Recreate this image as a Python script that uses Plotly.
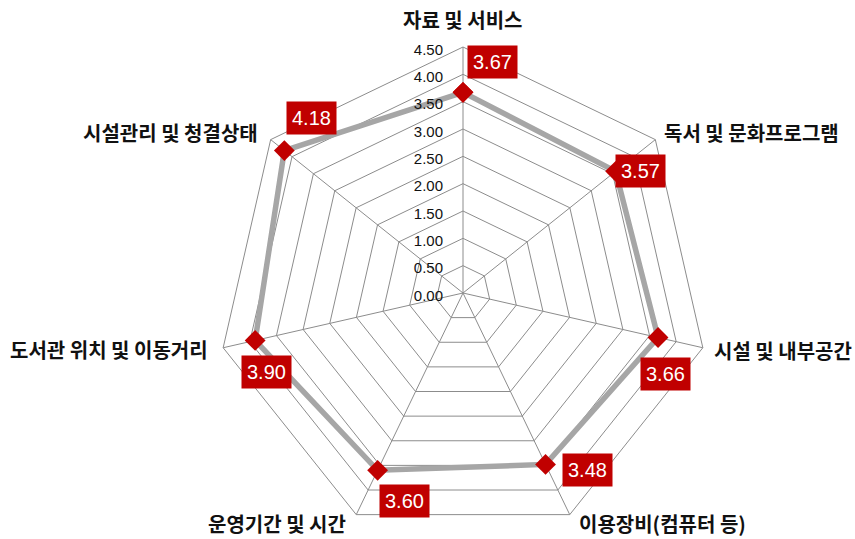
import math
import plotly.graph_objects as go

categories = ["자료 및 서비스", "독서 및 문화프로그램", "시설 및 내부공간", "이용장비(컴퓨터 등)",
              "운영기간 및 시간", "도서관 위치 및 이동거리", "시설관리 및 청결상태"]
values = [3.67, 3.57, 3.66, 3.48, 3.60, 3.90, 4.18]
radial_ticks = [0.0, 0.5, 1.0, 1.5, 2.0, 2.5, 3.0, 3.5, 4.0, 4.5]
r_max = 4.5

W, H = 855, 539
# polar geometry (pixels)
cx, cy, R = 463, 293, 246
dom_x = [(cx - R) / W, (cx + R) / W]
dom_y = [(H - (cy + R)) / H, (H - (cy - R)) / H]

# value-box offsets (pixels) relative to each marker
label_offsets = [(29, -30), (25, 0), (7, 36), (42, 6), (27, 31), (11, 32), (27, -33)]
# category-label placement relative to each outer vertex: (dx, dy, xanchor)
cat_offsets = [(-1, -27, "center"), (7, -7, "left"), (9, 3, "left"), (7, 9, "left"),
               (-8, 9, "right"), (-13, 2, "right"), (-11, -7, "right")]

fig = go.Figure()
fig.add_trace(go.Scatterpolar(
    r=values + values[:1], theta=categories + categories[:1],
    mode="lines+markers",
    line=dict(color="#a6a6a6", width=5.5),
    marker=dict(symbol="diamond", size=16, color="#c00000"),
    hoverinfo="skip", showlegend=False,
))

n = len(categories)
for i, (cat, v) in enumerate(zip(categories, values)):
    ang = math.radians(90 - 360 * i / n)
    # value box
    px = cx + v / r_max * R * math.cos(ang)
    py = cy - v / r_max * R * math.sin(ang)
    dx, dy = label_offsets[i]
    fig.add_annotation(
        x=px / W, y=1 - py / H, xref="paper", yref="paper",
        xshift=dx, yshift=-dy, showarrow=False,
        xanchor="center", yanchor="middle",
        text=f"{v:.2f}", bgcolor="#c00000", borderpad=5,
        font=dict(family="Liberation Sans, Arial", size=20, color="white"),
    )
    # category label
    vx = cx + R * math.cos(ang)
    vy = cy - R * math.sin(ang)
    cdx, cdy, anc = cat_offsets[i]
    fig.add_annotation(
        x=vx / W, y=1 - vy / H, xref="paper", yref="paper",
        xshift=cdx, yshift=-cdy, showarrow=False, xanchor=anc, yanchor="middle",
        text=cat,
        font=dict(family="Noto Sans CJK KR", size=20, color="#111111", weight="bold"),
    )

fig.update_layout(
    width=W, height=H,
    margin=dict(l=0, r=0, t=0, b=0),
    paper_bgcolor="white", plot_bgcolor="white",
    polar=dict(
        domain=dict(x=dom_x, y=dom_y),
        bgcolor="white",
        gridshape="linear",
        angularaxis=dict(
            direction="clockwise", rotation=90,
            linecolor="#8c8c8c", linewidth=1,
            gridcolor="#8c8c8c", gridwidth=1,
            ticks="", showticklabels=False,
        ),
        radialaxis=dict(
            range=[0, r_max], tickvals=radial_ticks,
            ticktext=[f"{t:.2f}" for t in radial_ticks],
            angle=90, side="counterclockwise",
            showline=False, gridcolor="#8c8c8c", gridwidth=1,
            ticks="outside", ticklen=6, tickcolor="rgba(0,0,0,0)",
            tickfont=dict(family="Liberation Sans, Arial", size=15, color="#111111"),
        ),
    ),
    font=dict(family="Noto Sans CJK KR"),
)

fig.write_html("out.html", config={"displayModeBar": False},
               post_script="document.body.style.margin='0';")
